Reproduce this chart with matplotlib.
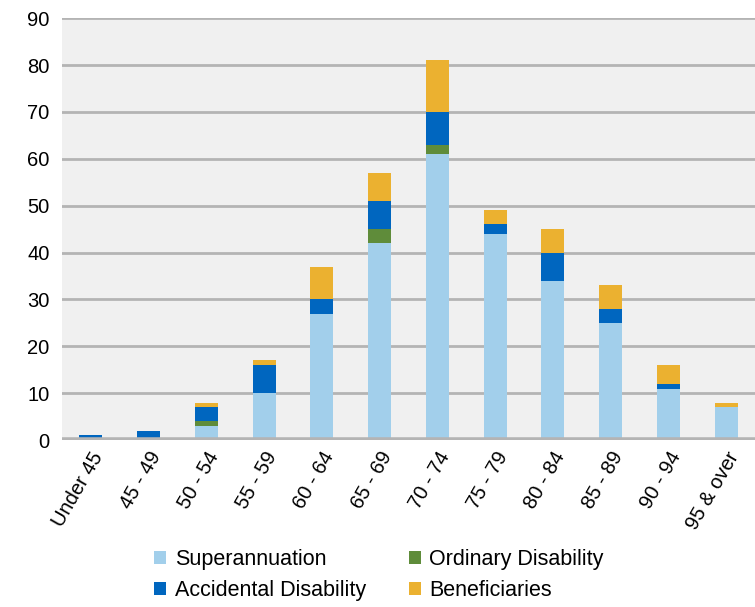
import matplotlib.pyplot as plt
import numpy as np

plt.rcParams['font.family'] = ['Liberation Sans', 'DejaVu Sans']

categories = ['Under 45', '45 - 49', '50 - 54', '55 - 59', '60 - 64', '65 - 69',
              '70 - 74', '75 - 79', '80 - 84', '85 - 89', '90 - 94', '95 & over']
superannuation = [0, 0, 3, 10, 27, 42, 61, 44, 34, 25, 11, 7]
ordinary = [0, 0, 1, 0, 0, 3, 2, 0, 0, 0, 0, 0]
accidental = [1, 2, 3, 6, 3, 6, 7, 2, 6, 3, 1, 0]
beneficiaries = [0, 0, 1, 1, 7, 6, 11, 3, 5, 5, 4, 1]

series = [('Superannuation', superannuation, '#a2cfeb'),
          ('Ordinary Disability', ordinary, '#5f8c3a'),
          ('Accidental Disability', accidental, '#0066bf'),
          ('Beneficiaries', beneficiaries, '#ebb130')]

fig = plt.figure(figsize=(7.55, 6.07), dpi=100)
ax = fig.add_axes([0.082, 0.275, 0.918, 0.695])
ax.set_facecolor('#f0f0f0')

x = np.arange(len(categories))
bottom = np.zeros(len(categories))
handles = {}
for name, vals, col in series:
    b = ax.bar(x, vals, 0.4, bottom=bottom, color=col, label=name, zorder=3)
    handles[name] = b
    bottom += np.array(vals)

ax.set_xlim(-0.5, len(categories) - 0.5)
ax.set_ylim(0, 90)
ax.set_yticks(range(0, 91, 10))
ax.yaxis.grid(True, color='#b4b4b4', linewidth=2, zorder=0)
ax.axhline(0, color='#b4b4b4', linewidth=4, zorder=4)
for s in ax.spines.values():
    s.set_visible(False)
ax.tick_params(length=0, labelsize=14.5)
ax.tick_params(axis='y', pad=9)
ax.tick_params(axis='x', pad=6)
ax.set_xticks(x)
ax.set_xticklabels(categories, rotation=60, ha='right', rotation_mode='anchor')

# legend reads row by row: Superannuation, Ordinary / Accidental, Beneficiaries
order = ['Superannuation', 'Accidental Disability', 'Ordinary Disability', 'Beneficiaries']
fig.legend([handles[n] for n in order], order, ncol=2, loc='center',
           bbox_to_anchor=(0.502, 0.053), frameon=False, fontsize=15.5,
           handlelength=0.55, handleheight=0.55, handletextpad=0.4,
           columnspacing=2.0, labelspacing=0.45)

fig.savefig('out.png', dpi=100)
